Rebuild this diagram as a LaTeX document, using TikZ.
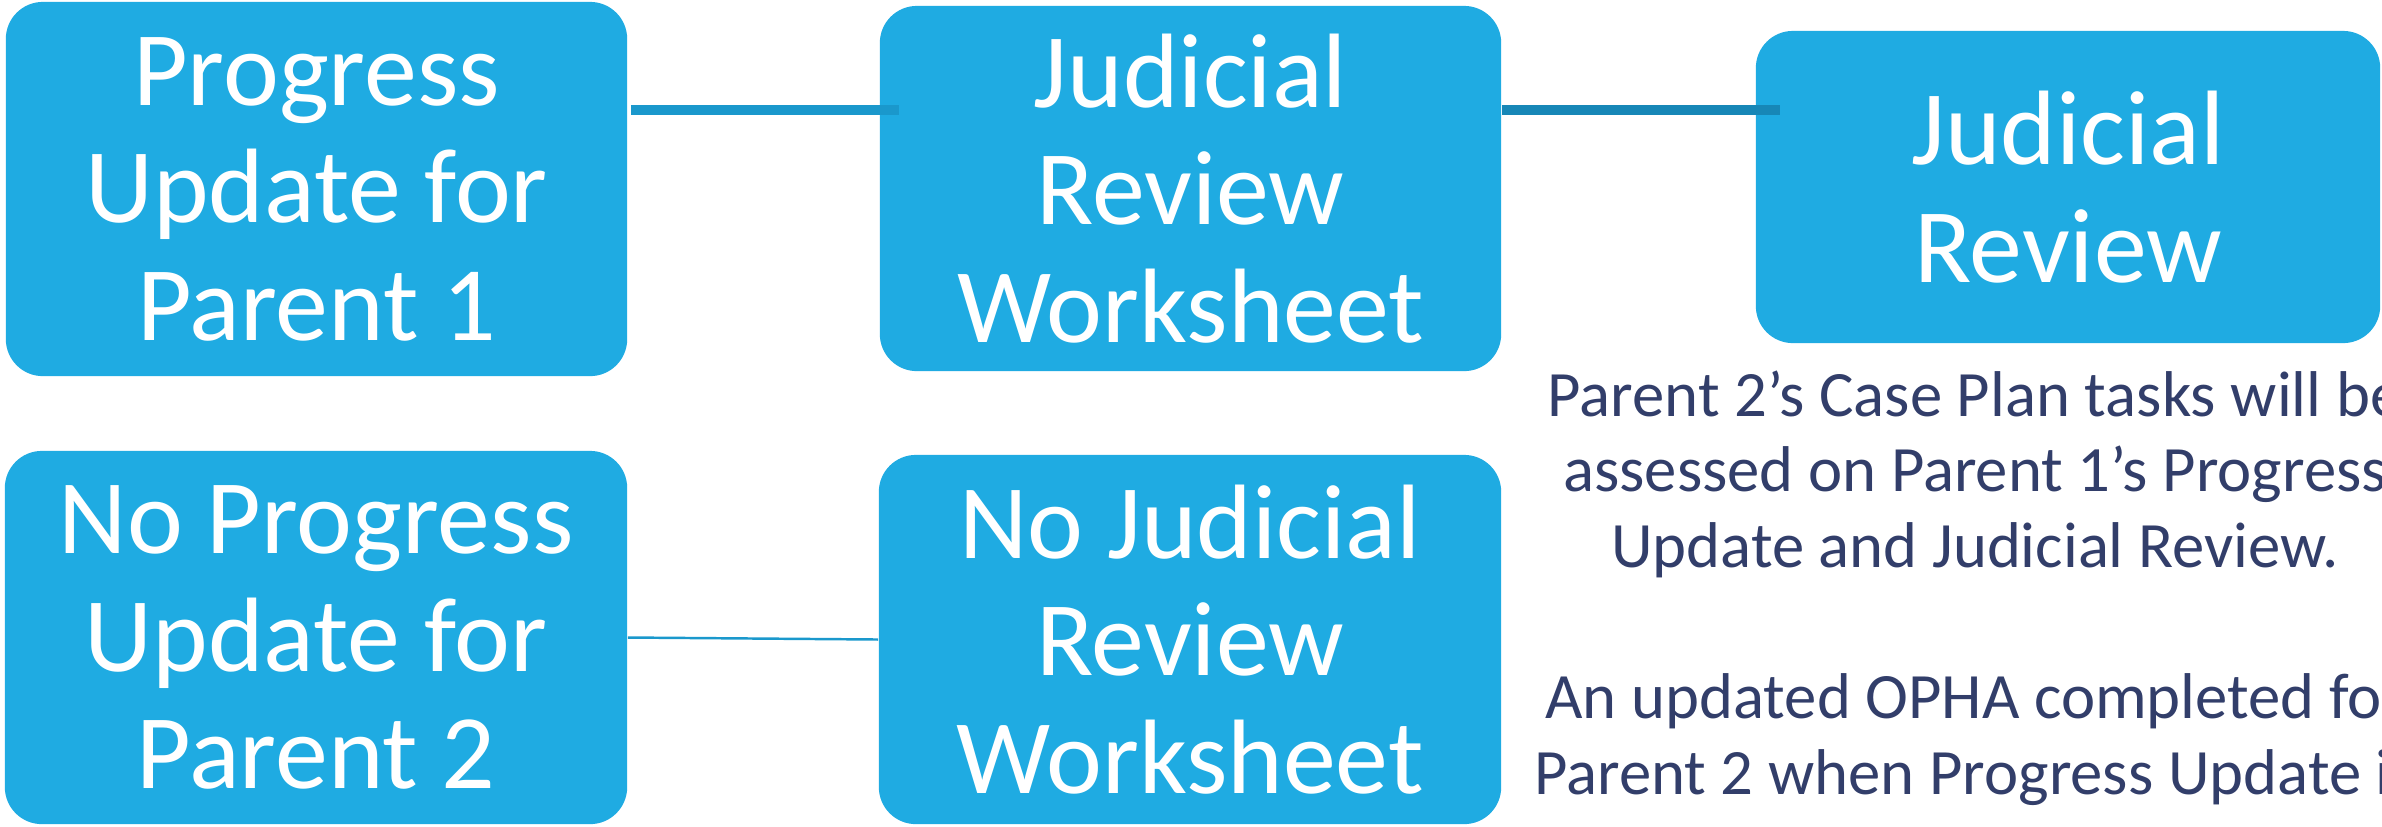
\documentclass[tikz,border=0pt]{standalone}
\usepackage{fontspec}
\setmainfont{Carlito}
\usepackage{xcolor}
\usetikzlibrary{positioning}

\definecolor{boxblue}{HTML}{1FABE2}
\definecolor{linkblue}{HTML}{1A98CC}
\definecolor{linkdark}{HTML}{1787B7}
\definecolor{notenavy}{HTML}{323E6A}

\begin{document}
\begin{tikzpicture}[
    x=0.01cm, y=-0.01cm,
    box/.style={
        rectangle,
        rounded corners=0.37cm,
        fill=boxblue,
        text=white,
        inner sep=0pt,
        align=center,
        font=\fontsize{30.1}{33.4}\selectfont
    },
    link/.style={line width=2.6pt},
    thinlink/.style={line width=0.7pt},
    note/.style={text=notenavy, align=center, inner sep=0pt, font=\fontsize{18.4}{21.5}\selectfont}
]

\useasboundingbox (0,0) rectangle (2382,826);
\clip (0,0) rectangle (2382,826);

% Nodes
\node[box, minimum width=6.21cm, minimum height=3.74cm] (upd1) at (316.5,189) {Progress\\Update for\\Parent 1};
\node[box, minimum width=6.21cm, minimum height=3.65cm] (jrw) at (1190.5,188.5) {Judicial\\Review\\Worksheet};
\node[box, minimum width=6.24cm, minimum height=3.12cm] (jr) at (2068,187) {Judicial\\Review};
\node[box, minimum width=6.22cm, minimum height=3.73cm] (noupd2) at (316,637.5) {No Progress\\Update for\\Parent 2};
\node[box, minimum width=6.22cm, minimum height=3.69cm] (nojrw) at (1190,639.5) {No Judicial\\Review\\Worksheet};

% Connectors
\coordinate (toprow) at (0,110);
\draw[link, linkblue] ([xshift=0.03cm]upd1.east |- toprow) -- ([xshift=0.2cm]jrw.west |- toprow);
\draw[link, linkdark] (jrw.east |- toprow) -- ([xshift=0.25cm]jr.west |- toprow);
\draw[thinlink, linkblue] (noupd2.east) -- (nojrw.west);

% Note for parent 2
\node[note, anchor=north] (note) at (1975,370) {Parent 2’s Case Plan tasks will be\\assessed on Parent 1’s Progress\\Update and Judicial Review.\\[21.5pt]An updated OPHA completed for\\Parent 2 when Progress Update is};

\end{tikzpicture}
\end{document}
